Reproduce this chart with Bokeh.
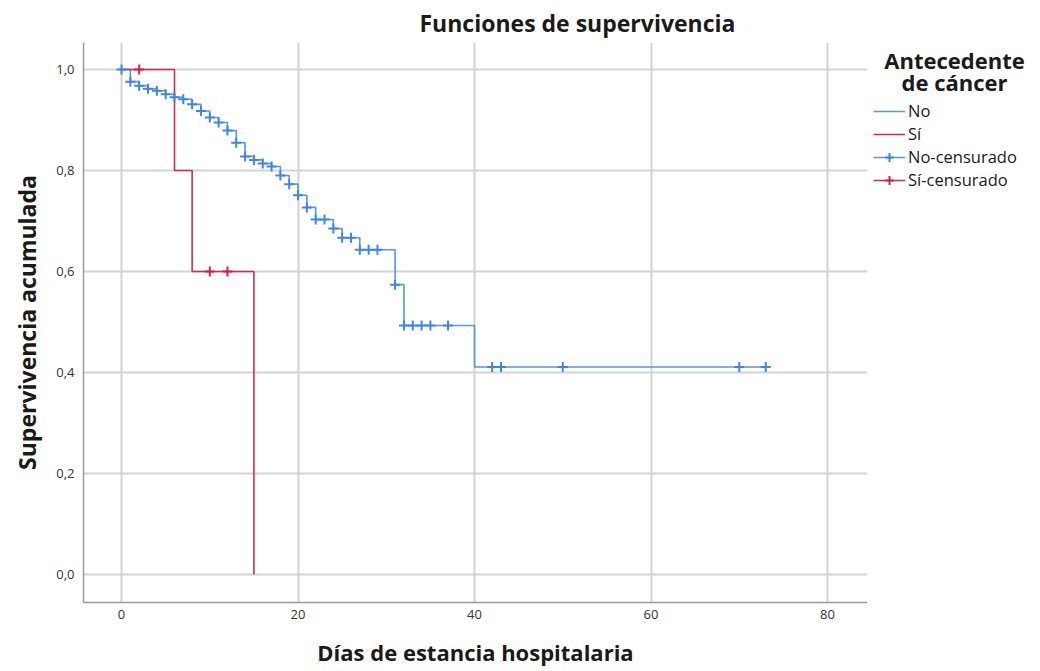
import numpy as np
from bokeh.plotting import figure
from bokeh.layouts import row
from bokeh.models import Range1d, FixedTicker, Label, Legend, LegendItem
from bokeh.embed import file_html
from bokeh.resources import INLINE

# ---------------- data ----------------
title_text = "Funciones de supervivencia"
x_label = "Días de estancia hospitalaria"
y_label = "Supervivencia acumulada"
legend_title = ["Antecedente", "de cáncer"]
group_labels = ["No", "Sí", "No-censurado", "Sí-censurado"]

x_ticks = [0, 20, 40, 60, 80]
y_ticks = [0.0, 0.2, 0.4, 0.6, 0.8, 1.0]
y_tick_labels = ["0,0", "0,2", "0,4", "0,6", "0,8", "1,0"]

# Group "No": step times (days) and survival after each step
no_times = [0, 1, 2, 3, 4, 5, 6, 7, 8, 9, 10, 11, 12, 13, 14, 15, 16, 17, 18, 19,
            20, 21, 22, 24, 25, 27, 31, 32, 40, 73]
no_surv = [1.000, 0.976, 0.968, 0.962, 0.958, 0.951, 0.945, 0.941, 0.931, 0.918,
           0.905, 0.895, 0.879, 0.855, 0.828, 0.821, 0.814, 0.808, 0.790, 0.773,
           0.751, 0.727, 0.703, 0.685, 0.667, 0.643, 0.574, 0.493, 0.411, 0.411]
no_cens_times = [0, 1, 2, 3, 4, 5, 6, 7, 8, 9, 10, 11, 12, 13, 14, 15, 16, 17, 18,
                 19, 20, 21, 22, 23, 24, 25, 26, 27, 28, 29, 31, 32, 33, 34, 35, 37,
                 42, 43, 50, 70, 73]

# Group "Sí"
si_times = [0, 6, 8, 15]
si_surv = [1.0, 0.8, 0.6, 0.0]
si_cens_times = [2, 10, 12]


def surv_at(times, surv, t):
    idx = np.searchsorted(np.asarray(times), np.asarray(t), side="right") - 1
    return [surv[i] for i in idx]


no_cens_surv = surv_at(no_times, no_surv, no_cens_times)
si_cens_surv = surv_at(si_times, si_surv, si_cens_times)

# ---------------- style ----------------
FONT = "Open Sans"
BLUE = "#5596E6"
BLUE_M = "#3F86E0"
RED = "#D42A52"
RED_M = "#D0204C"
TXT = "#1a1a1a"

p = figure(frame_width=784, frame_height=560, output_backend="svg",
           toolbar_location=None,
           x_range=Range1d(-4.31, 84.53), y_range=Range1d(-0.0554, 1.0535),
           min_border_left=83, min_border_right=0, min_border_top=40,
           min_border_bottom=71)
p.outline_line_color = None
p.background_fill_color = "white"
p.border_fill_color = "white"

p.title.text = title_text
p.title.align = "left"
p.title.offset = 336
p.title.standoff = 8
p.title.text_font = FONT
p.title.text_font_size = "23px"
p.title.text_font_style = "bold"
p.title.text_color = TXT

p.xaxis.ticker = FixedTicker(ticks=x_ticks)
p.yaxis.ticker = FixedTicker(ticks=y_ticks)
p.yaxis.major_label_overrides = dict(zip(y_ticks, y_tick_labels))
p.xaxis.axis_label = x_label
p.yaxis.axis_label = y_label

for ax in (p.xaxis[0], p.yaxis[0]):
    ax.axis_line_color = "#9a9a9a"
    ax.axis_line_width = 1.5
    ax.major_tick_line_color = None
    ax.minor_tick_line_color = None
    ax.major_tick_out = 0
    ax.major_tick_in = 0
    ax.major_label_text_font = FONT
    ax.major_label_text_font_size = "13px"
    ax.major_label_text_color = "#333333"
    ax.axis_label_text_font = FONT
    ax.axis_label_text_font_size = "22px"
    ax.axis_label_text_font_style = "bold"
    ax.axis_label_text_color = TXT

p.yaxis.axis_label_text_font_size = "23px"
p.xaxis.major_label_standoff = 7
p.xaxis.axis_label_standoff = 15
p.yaxis.major_label_standoff = 9
p.yaxis.axis_label_standoff = 10

p.grid.grid_line_color = "#d3d3d3"
p.grid.grid_line_width = 2

p.step(no_times, no_surv, mode="after", line_color=BLUE, line_width=1.6)
p.step(si_times, si_surv, mode="after", line_color=RED, line_width=1.6)
p.scatter(no_cens_times, no_cens_surv, marker="cross", size=10,
          line_color=BLUE_M, line_width=2)
p.scatter(si_cens_times, si_cens_surv, marker="cross", size=10,
          line_color=RED_M, line_width=2)

# ---------------- legend panel (frame aligned with the plot frame) ----------------
# ranges chosen so the legend-key renderers (same data) fall outside this panel
q = figure(width=173, height=671, output_backend="svg", toolbar_location=None,
           x_range=Range1d(1000, 1173), y_range=Range1d(1000, 1560),
           x_axis_type=None, y_axis_type=None,
           min_border_left=0, min_border_right=0, min_border_top=40,
           min_border_bottom=71)
q.outline_line_color = None
q.grid.visible = False
q.background_fill_color = "white"
q.border_fill_color = "white"

k_no = q.step(no_times, no_surv, mode="after", line_color=BLUE, line_width=1.6)
k_si = q.step(si_times, si_surv, mode="after", line_color=RED, line_width=1.6)
k_no_c = q.scatter(no_cens_times, no_cens_surv, marker="cross", size=10,
                   line_color=BLUE_M, line_width=2)
k_si_c = q.scatter(si_cens_times, si_cens_surv, marker="cross", size=10,
                   line_color=RED_M, line_width=2)

legend = Legend(items=[
    LegendItem(label=group_labels[0], renderers=[k_no]),
    LegendItem(label=group_labels[1], renderers=[k_si]),
    LegendItem(label=group_labels[2], renderers=[k_no, k_no_c]),
    LegendItem(label=group_labels[3], renderers=[k_si, k_si_c]),
], location=(2, 405))
legend.glyph_height = 22
legend.glyph_width = 32
legend.label_height = 22
legend.spacing = 0
legend.padding = 4
legend.margin = 0
legend.label_standoff = 3
legend.background_fill_alpha = 0
legend.border_line_alpha = 0
legend.label_text_font = FONT
legend.label_text_font_size = "16.5px"
legend.label_text_color = TXT
q.add_layout(legend)

q.add_layout(Label(x=87, y=541, x_units="screen", y_units="screen",
                   text=legend_title[0], text_align="center", text_baseline="middle",
                   text_font=FONT, text_font_size="22px", text_font_style="bold",
                   text_color=TXT))
q.add_layout(Label(x=87, y=519, x_units="screen", y_units="screen",
                   text=legend_title[1], text_align="center", text_baseline="middle",
                   text_font=FONT, text_font_size="22px", text_font_style="bold",
                   text_color=TXT))

layout = row(p, q)
open("out.html", "w").write(file_html(layout, INLINE))
